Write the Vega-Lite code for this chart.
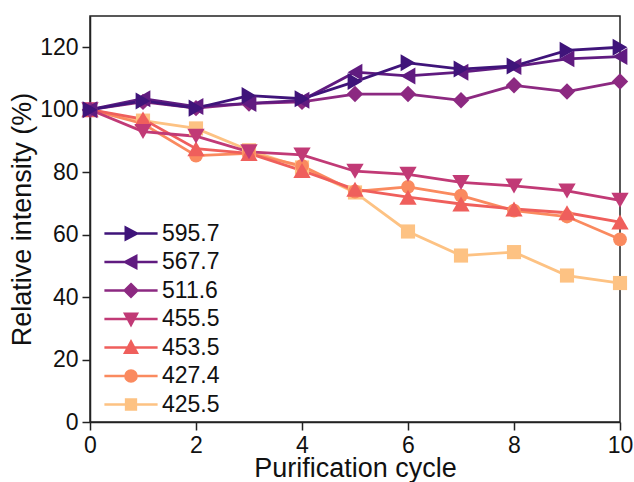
{
  "$schema": "https://vega.github.io/schema/vega-lite/v6.json",
  "width": 530,
  "height": 406,
  "autosize": "none",
  "padding": {"left": 90, "top": 16, "right": 14, "bottom": 60},
  "background": "white",
  "config": {
    "font": "Liberation Sans",
    "view": {"stroke": "#222222", "strokeWidth": 1.5},
    "axis": {
      "domainColor": "#222222", "domainWidth": 1.5,
      "tickColor": "#222222", "tickWidth": 1.5, "tickSize": 8,
      "labelFontSize": 23, "labelColor": "#111111", "labelPadding": 4,
      "titleFontSize": 27, "titleFontWeight": "normal", "titleColor": "#111111",
      "grid": false
    }
  },
  "data": {
    "values": [
      {"c": 0, "v": 100, "s": "425.5"}, {"c": 1, "v": 96.5, "s": "425.5"}, {"c": 2, "v": 94, "s": "425.5"}, {"c": 3, "v": 87, "s": "425.5"}, {"c": 4, "v": 81.5, "s": "425.5"}, {"c": 5, "v": 73.5, "s": "425.5"}, {"c": 6, "v": 61, "s": "425.5"}, {"c": 7, "v": 53.3, "s": "425.5"}, {"c": 8, "v": 54.4, "s": "425.5"}, {"c": 9, "v": 46.9, "s": "425.5"}, {"c": 10, "v": 44.5, "s": "425.5"},
      {"c": 0, "v": 100, "s": "427.4"}, {"c": 1, "v": 95.5, "s": "427.4"}, {"c": 2, "v": 85.3, "s": "427.4"}, {"c": 3, "v": 86, "s": "427.4"}, {"c": 4, "v": 82, "s": "427.4"}, {"c": 5, "v": 73.8, "s": "427.4"}, {"c": 6, "v": 75.3, "s": "427.4"}, {"c": 7, "v": 72.5, "s": "427.4"}, {"c": 8, "v": 67.7, "s": "427.4"}, {"c": 9, "v": 65.8, "s": "427.4"}, {"c": 10, "v": 58.5, "s": "427.4"},
      {"c": 0, "v": 100, "s": "453.5"}, {"c": 1, "v": 97, "s": "453.5"}, {"c": 2, "v": 87.5, "s": "453.5"}, {"c": 3, "v": 86, "s": "453.5"}, {"c": 4, "v": 80.5, "s": "453.5"}, {"c": 5, "v": 74.5, "s": "453.5"}, {"c": 6, "v": 72, "s": "453.5"}, {"c": 7, "v": 69.8, "s": "453.5"}, {"c": 8, "v": 68.2, "s": "453.5"}, {"c": 9, "v": 67, "s": "453.5"}, {"c": 10, "v": 64, "s": "453.5"},
      {"c": 0, "v": 100, "s": "455.5"}, {"c": 1, "v": 93, "s": "455.5"}, {"c": 2, "v": 91.5, "s": "455.5"}, {"c": 3, "v": 86.5, "s": "455.5"}, {"c": 4, "v": 85.5, "s": "455.5"}, {"c": 5, "v": 80.3, "s": "455.5"}, {"c": 6, "v": 79.3, "s": "455.5"}, {"c": 7, "v": 76.7, "s": "455.5"}, {"c": 8, "v": 75.6, "s": "455.5"}, {"c": 9, "v": 74, "s": "455.5"}, {"c": 10, "v": 71, "s": "455.5"},
      {"c": 0, "v": 100, "s": "511.6"}, {"c": 1, "v": 102.5, "s": "511.6"}, {"c": 2, "v": 100.5, "s": "511.6"}, {"c": 3, "v": 102, "s": "511.6"}, {"c": 4, "v": 102.5, "s": "511.6"}, {"c": 5, "v": 105, "s": "511.6"}, {"c": 6, "v": 105, "s": "511.6"}, {"c": 7, "v": 103, "s": "511.6"}, {"c": 8, "v": 107.8, "s": "511.6"}, {"c": 9, "v": 105.8, "s": "511.6"}, {"c": 10, "v": 109, "s": "511.6"},
      {"c": 0, "v": 100, "s": "567.7"}, {"c": 1, "v": 103.5, "s": "567.7"}, {"c": 2, "v": 101, "s": "567.7"}, {"c": 3, "v": 102, "s": "567.7"}, {"c": 4, "v": 103, "s": "567.7"}, {"c": 5, "v": 112, "s": "567.7"}, {"c": 6, "v": 110.8, "s": "567.7"}, {"c": 7, "v": 112, "s": "567.7"}, {"c": 8, "v": 113.8, "s": "567.7"}, {"c": 9, "v": 116.3, "s": "567.7"}, {"c": 10, "v": 117, "s": "567.7"},
      {"c": 0, "v": 100, "s": "595.7"}, {"c": 1, "v": 102.8, "s": "595.7"}, {"c": 2, "v": 100.5, "s": "595.7"}, {"c": 3, "v": 104.5, "s": "595.7"}, {"c": 4, "v": 103.5, "s": "595.7"}, {"c": 5, "v": 109, "s": "595.7"}, {"c": 6, "v": 115, "s": "595.7"}, {"c": 7, "v": 113, "s": "595.7"}, {"c": 8, "v": 114, "s": "595.7"}, {"c": 9, "v": 119, "s": "595.7"}, {"c": 10, "v": 120, "s": "595.7"}
    ]
  },
  "encoding": {
    "x": {
      "field": "c", "type": "quantitative",
      "scale": {"domain": [0, 10], "nice": false, "zero": false},
      "axis": {"values": [0, 2, 4, 6, 8, 10], "title": "Purification cycle", "titlePadding": -2, "labelFlush": false}
    },
    "y": {
      "field": "v", "type": "quantitative",
      "scale": {"domain": [0, 130], "nice": false},
      "axis": {"values": [0, 20, 40, 60, 80, 100, 120], "title": "Relative intensity (%)", "titlePadding": 3}
    },
    "color": {
      "field": "s", "type": "nominal",
      "scale": {
        "domain": ["595.7", "567.7", "511.6", "455.5", "453.5", "427.4", "425.5"],
        "range": ["#3f147a", "#601b80", "#8c2981", "#c13a76", "#ef5f5c", "#fa8a5f", "#fdc283"]
      },
      "legend": {
        "title": null,
        "orient": "none",
        "legendX": 29.5,
        "legendY": 206,
        "padding": 0,
        "labelFontSize": 23,
        "labelColor": "#111111",
        "labelOffset": 19.5,
        "symbolSize": 196,
        "symbolOffset": 0,
        "rowPadding": 4.5,
        "symbolStrokeWidth": 2.5,
        "encode": {
          "symbols": {
            "update": {
              "shape": {"signal": "datum.value==='595.7'?'M-3.8,0H3.8M-0.75,-0.85L0.85,0L-0.75,0.85Z':datum.value==='567.7'?'M-3.8,0H3.8M0.75,-0.85L-0.85,0L0.75,0.85Z':datum.value==='511.6'?'M-3.8,0H3.8M0,-0.9L0.9,0L0,0.9L-0.9,0Z':datum.value==='455.5'?'M-3.8,0H3.8M-0.85,-0.75L0.85,-0.75L0,0.85Z':datum.value==='453.5'?'M-3.8,0H3.8M-0.85,0.75L0.85,0.75L0,-0.85Z':datum.value==='427.4'?'M-3.8,0H3.8M0.8,0A0.8,0.8,0,1,1,-0.8,0A0.8,0.8,0,1,1,0.8,0Z':'M-3.8,0H3.8M-0.7,-0.7H0.7V0.7H-0.7Z'"},
              "fill": {"signal": "scale('color', datum.value)"},
              "stroke": {"signal": "scale('color', datum.value)"},
              "strokeWidth": {"value": 2.5},
              "opacity": {"value": 1}
            }
          }
        }
      }
    }
  },
  "layer": [
    {"mark": {"type": "line", "strokeWidth": 2.8}},
    {"transform": [{"filter": "datum.s === '425.5'"}], "mark": {"type": "point", "filled": true, "opacity": 1, "shape": "square", "size": 200}},
    {"transform": [{"filter": "datum.s === '427.4'"}], "mark": {"type": "point", "filled": true, "opacity": 1, "shape": "circle", "size": 190}},
    {"transform": [{"filter": "datum.s === '453.5'"}], "mark": {"type": "point", "filled": true, "opacity": 1, "shape": "triangle-up", "size": 300}},
    {"transform": [{"filter": "datum.s === '455.5'"}], "mark": {"type": "point", "filled": true, "opacity": 1, "shape": "triangle-down", "size": 300}},
    {"transform": [{"filter": "datum.s === '511.6'"}], "mark": {"type": "point", "filled": true, "opacity": 1, "shape": "diamond", "size": 270}},
    {"transform": [{"filter": "datum.s === '567.7'"}], "mark": {"type": "point", "filled": true, "opacity": 1, "shape": "triangle-left", "size": 290}},
    {"transform": [{"filter": "datum.s === '595.7'"}], "mark": {"type": "point", "filled": true, "opacity": 1, "shape": "triangle-right", "size": 290}}
  ]
}
